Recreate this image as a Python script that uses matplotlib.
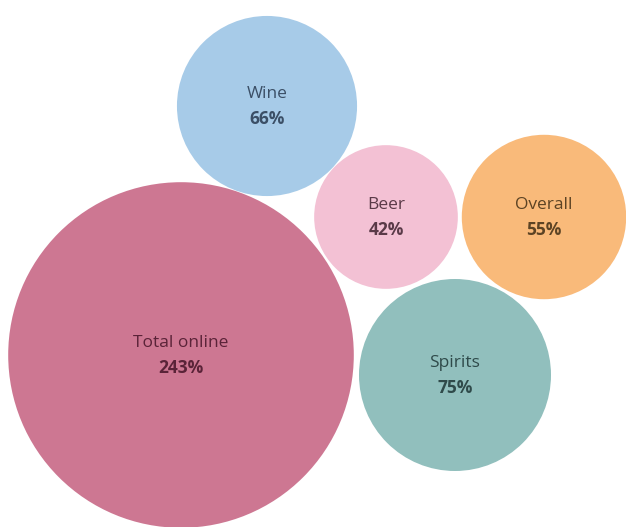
#!/usr/bin/env python3
import numpy as np
import matplotlib.pyplot as plt
from matplotlib.patches import Circle

# growth in online sales, by category
categories = ['Total online', 'Wine', 'Beer', 'Overall', 'Spirits']
growth_pct = [243, 66, 42, 55, 75]

# packed-bubble layout (canvas pixels, y down)
bubble_x = [181, 267, 386, 544, 455]
bubble_y = [355, 106, 217, 217, 375]

colors = ['#CD7792', '#A7CBE8', '#F3C1D4', '#F9BA7A', '#91BFBD']
text_colors = ['#5a2338', '#3b4f66', '#5a3a48', '#5c4324', '#2f4a4a']

width, height = 626, 527


def main():
    plt.rc('font', family=['Open Sans', 'DejaVu Sans'])
    fig = plt.figure(figsize=[width / 100, height / 100], dpi=100)
    ax = fig.add_axes([0, 0, 1, 1])

    # bubble area proportional to value
    scale = 96 / np.sqrt(75)
    radii = scale * np.sqrt(np.array(growth_pct, dtype=float))

    for name, val, x, y, r, c, tc in zip(categories, growth_pct, bubble_x, bubble_y,
                                         radii, colors, text_colors):
        ax.add_patch(Circle((x, y), r, facecolor=c, edgecolor='none'))
        ax.text(x, y - 12, name, ha='center', va='center', fontsize=12.5, color=tc)
        ax.text(x, y + 13, f'{val}%', ha='center', va='center', fontsize=12.5,
                color=tc, fontweight='bold')

    ax.set_xlim(0, width)
    ax.set_ylim(height, 0)
    ax.set_aspect('equal')
    ax.axis('off')

    fig.savefig('out.png', dpi=100)


if __name__ == "__main__":
    main()
